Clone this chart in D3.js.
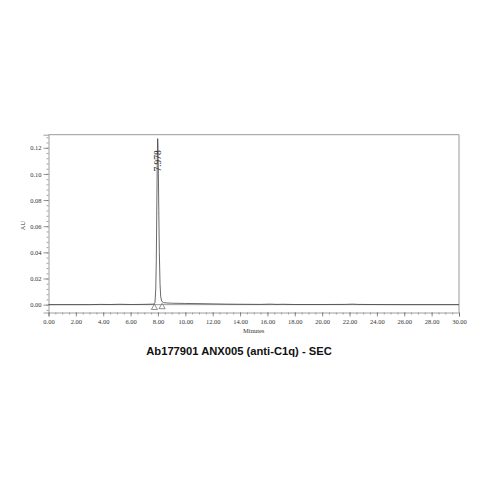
<!DOCTYPE html>
<html>
<head>
<meta charset="utf-8">
<script src="https://cdn.jsdelivr.net/npm/d3@7"></script>
<style>
  body { margin: 0; background: #fff; }
  .tick text { font-family: "Liberation Serif", serif; font-size: 6.5px; fill: #333; }
</style>
</head>
<body>
<script>
// chromatogram, minutes vs AU
var times  = [0, 1, 2, 3, 3.8, 4.5, 5.2, 6, 6.8, 7.3, 7.6, 7.7, 7.78, 7.84, 7.88, 7.92, 7.95, 7.978,
              8.0, 8.03, 8.06, 8.1, 8.15, 8.2, 8.28, 8.4, 8.6, 9, 10, 11, 12, 13, 14, 15.5,
              16.2, 16.7, 17.1, 18, 20, 21.7, 22.2, 22.6, 23.5, 26, 30];
var values = [0, 0, 0, 0, 0.0002, 0.0001, 0.0003, 0.0001, 0.0002, 0.0003, 0.0004, 0.0005, 0.0015, 0.012, 0.035, 0.080, 0.112, 0.127,
              0.122, 0.100, 0.072, 0.040, 0.016, 0.006, 0.0025, 0.0016, 0.0013, 0.0011, 0.0009, 0.0008, 0.0006, 0.0004, 0.0003, 0.0002,
              0.0004, 0.0002, 0.0003, 0.0001, 0.0001, 0.0002, 0.0004, 0.0002, 0.0001, 0, 0];
var xMajor = [0, 2, 4, 6, 8, 10, 12, 14, 16, 18, 20, 22, 24, 26, 28, 30];
var yMajor = [0, 0.02, 0.04, 0.06, 0.08, 0.10, 0.12];
var peakTime = 7.978, peakHeight = 0.127;
var markTimes = [7.74, 8.30];
var markValues = [-0.0012, -0.0006];
var title = "Ab177901 ANX005 (anti-C1q) - SEC";

var w = 479, h = 479;
var pLeft = 48.5, pRight = 459, pTop = 134.7, pBottom = 312.5;

var svg = d3.select("body").append("svg")
  .attr("width", w).attr("height", h);

var x = d3.scaleLinear().domain([0, 30]).range([pLeft, pRight]);
var y = d3.scaleLinear().domain([-0.006, 0.13]).range([pBottom, pTop]);

// minor ticks
var xMinor = d3.range(0, 30.01, 0.5);
var yMinor = d3.range(-0.004, 0.1301, 0.004);

svg.append("g")
  .attr("transform", "translate(0," + pBottom + ")")
  .call(d3.axisBottom(x).tickValues(xMinor).tickSize(2).tickFormat(""))
  .call(function(g) { g.select(".domain").remove(); })
  .selectAll("line").attr("stroke", "#666").attr("stroke-width", 0.6);

svg.append("g")
  .attr("transform", "translate(" + pLeft + ",0)")
  .call(d3.axisLeft(y).tickValues(yMinor).tickSize(2).tickFormat(""))
  .call(function(g) { g.select(".domain").remove(); })
  .selectAll("line").attr("stroke", "#666").attr("stroke-width", 0.6);

var xAxis = svg.append("g")
  .attr("transform", "translate(0," + pBottom + ")")
  .call(d3.axisBottom(x).tickValues(xMajor).tickSize(4).tickPadding(3)
    .tickFormat(function(d) { return d3.format(".2f")(d); }));
xAxis.select(".domain").attr("stroke", "#888").attr("stroke-width", 0.8);
xAxis.selectAll("line").attr("stroke", "#666").attr("stroke-width", 0.7);

var yAxis = svg.append("g")
  .attr("transform", "translate(" + pLeft + ",0)")
  .call(d3.axisLeft(y).tickValues(yMajor).tickSize(5).tickPadding(2)
    .tickFormat(function(d) { return d3.format(".2f")(d); }));
yAxis.select(".domain").attr("stroke", "#888").attr("stroke-width", 0.8);
yAxis.selectAll("line").attr("stroke", "#666").attr("stroke-width", 0.7);

// frame top and right
svg.append("line").attr("x1", pLeft).attr("x2", pRight).attr("y1", pTop).attr("y2", pTop)
  .attr("stroke", "#999").attr("stroke-width", 1);
svg.append("line").attr("x1", pRight).attr("x2", pRight).attr("y1", pTop).attr("y2", pBottom)
  .attr("stroke", "#999").attr("stroke-width", 1);

// baseline at zero
svg.append("line").attr("x1", pLeft).attr("x2", pRight).attr("y1", y(0)).attr("y2", y(0))
  .attr("stroke", "#555").attr("stroke-width", 0.6);

var line = d3.line()
  .x(function(d, i) { return x(times[i]); })
  .y(function(d) { return y(d); });

svg.append("path")
  .datum(values)
  .attr("d", line)
  .attr("fill", "none")
  .attr("stroke", "#444")
  .attr("stroke-width", 0.8);

// integration marks
svg.selectAll("path.mark")
  .data(markTimes)
  .enter()
  .append("path")
  .attr("class", "mark")
  .attr("d", d3.symbol().type(d3.symbolTriangle).size(16))
  .attr("transform", function(d, i) {
    return "translate(" + x(d) + "," + (y(markValues[i]) + 1.5) + ")";
  })
  .attr("fill", "#fff")
  .attr("stroke", "#444")
  .attr("stroke-width", 0.6);

// peak label
svg.append("text")
  .text(d3.format(".3f")(peakTime))
  .attr("transform", "translate(" + (x(peakTime) + 3.3) + "," + (y(peakHeight) + 33) + ") rotate(-90)")
  .attr("font-family", "Liberation Serif, serif")
  .attr("font-size", "9.5px")
  .attr("fill", "#333");

svg.append("text")
  .text("AU")
  .attr("transform", "translate(25," + ((pTop + pBottom) / 2 + 2) + ") rotate(-90)")
  .attr("text-anchor", "middle")
  .attr("font-family", "Liberation Serif, serif")
  .attr("font-size", "6.5px")
  .attr("fill", "#333");

svg.append("text")
  .text("Minutes")
  .attr("x", (pLeft + pRight) / 2)
  .attr("y", 333)
  .attr("text-anchor", "middle")
  .attr("font-family", "Liberation Serif, serif")
  .attr("font-size", "6.5px")
  .attr("fill", "#333");

svg.append("text")
  .text(title)
  .attr("x", 239)
  .attr("y", 355)
  .attr("text-anchor", "middle")
  .attr("font-family", "Liberation Sans, Arial, sans-serif")
  .attr("font-weight", "bold")
  .attr("font-size", "11.2px")
  .attr("fill", "#111");
</script>
</body>
</html>
